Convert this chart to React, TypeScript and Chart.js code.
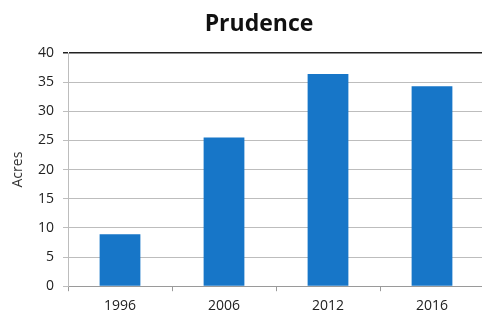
import React, { useEffect, useRef } from "react";
import { Chart, registerables } from "chart.js";

Chart.register(...registerables);

const TITLE = "Prudence";
const Y_TITLE = "Acres";
const CATEGORIES = ["1996", "2006", "2012", "2016"];
const ACRES = [8.9, 25.5, 36.4, 34.3];
const Y_MIN = 0;
const Y_MAX = 40;
const Y_STEP = 5;

const FONT = '"Open Sans", "Liberation Sans", sans-serif';

const titlePlugin = {
  id: "scanTitle",
  afterDraw(chart: any) {
    const ctx = chart.ctx;
    ctx.save();
    ctx.font = `bold 23px ${FONT}`;
    ctx.fillStyle = "#111111";
    ctx.textAlign = "center";
    ctx.textBaseline = "alphabetic";
    ctx.fillText(TITLE, 259, 31);
    ctx.restore();
  },
};

export default function App() {
  const ref = useRef<HTMLCanvasElement | null>(null);

  useEffect(() => {
    if (!ref.current) return;
    const chart = new Chart(ref.current, {
      type: "bar",
      data: {
        labels: CATEGORIES,
        datasets: [
          {
            label: Y_TITLE,
            data: ACRES,
            backgroundColor: "#1776c8",
            borderWidth: 0,
            categoryPercentage: 0.8,
            barPercentage: 0.49,
          },
        ],
      },
      plugins: [titlePlugin],
      options: {
        responsive: false,
        animation: false,
        layout: { padding: { left: 6, right: 6, top: 53, bottom: 4 } },
        plugins: {
          legend: { display: false },
          tooltip: { enabled: false },
          title: { display: false },
        },
        scales: {
          x: {
            offset: true,
            grid: {
              display: true,
              offset: true,
              drawOnChartArea: false,
              drawTicks: true,
              tickLength: 5,
              color: "#9a9a9a",
            },
            border: { display: true, color: "#9a9a9a" },
            ticks: {
              color: "#222222",
              font: { family: FONT, size: 14 },
              padding: 6,
              maxRotation: 0,
            },
          },
          y: {
            min: Y_MIN,
            max: Y_MAX,
            afterFit(scale: any) {
              scale.width = 62;
            },
            ticks: {
              stepSize: Y_STEP,
              color: "#222222",
              font: { family: FONT, size: 14 },
              padding: 9,
            },
            grid: {
              drawTicks: true,
              tickLength: 5,
              color: (c: any) => (c.tick && c.tick.value === Y_MAX ? "#222222" : "#bdbdbd"),
              lineWidth: (c: any) => (c.tick && c.tick.value === Y_MAX ? 1.5 : 1),
            },
            border: { display: true, color: "#bdbdbd" },
            title: {
              display: true,
              text: Y_TITLE,
              color: "#333333",
              font: { family: FONT, size: 14 },
              padding: { top: 4, bottom: 0 },
            },
          },
        },
      },
    });
    return () => chart.destroy();
  }, []);

  return (
    <div style={{ position: "fixed", left: 0, top: 0, width: 482, height: 324, overflow: "hidden", background: "#ffffff" }}>
      <canvas ref={ref} width={490} height={324} style={{ display: "block" }} />
    </div>
  );
}
